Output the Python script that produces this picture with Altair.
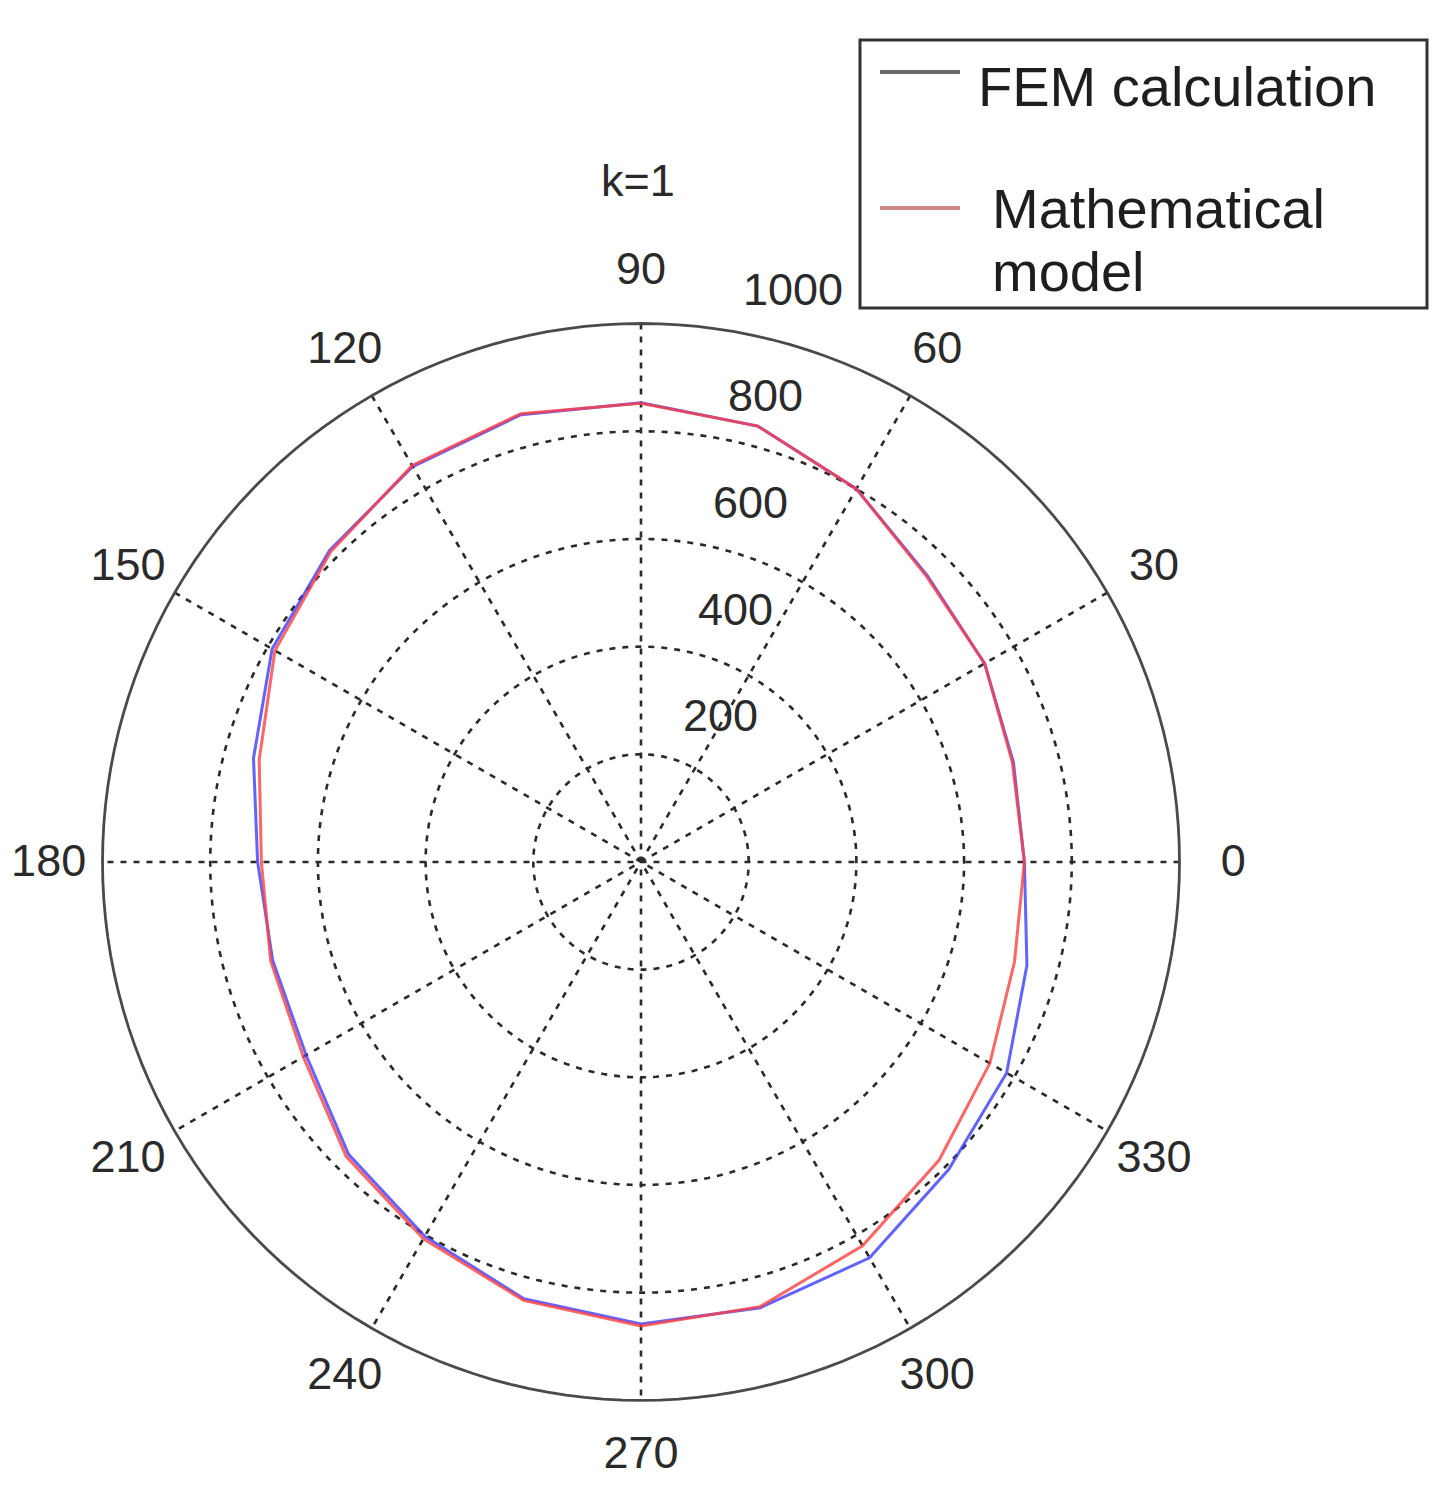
import numpy as np
import pandas as pd
import altair as alt

# values (angle in degrees, radius)
angles = [0, 15, 30, 45, 60, 75, 90, 105, 120, 135, 150, 165,
          180, 195, 210, 225, 240, 255, 270, 285, 300, 315, 330, 345]
fem = [712, 716, 737, 752, 800, 838, 853, 860, 848, 818, 791, 745,
       712, 708, 718, 768, 803, 840, 858, 857, 849, 808, 784, 742]
math_model = [712, 714, 737, 750, 800, 838, 852, 862, 850, 815, 785, 734,
              705, 712, 724, 774, 808, 843, 862, 855, 823, 783, 748, 718]

rings = [200, 400, 600, 800]
r_max = 1000
radial_labels = [200, 400, 600, 800, 1000]
spokes = [0, 30, 60, 90, 120, 150]
angle_labels = [0, 30, 60, 90, 120, 150, 180, 210, 240, 270, 300, 330]

W, H = 1427, 1485
xs = alt.Scale(domain=[-1175.5, 1474.5], nice=False, zero=False)
ys = alt.Scale(domain=[-1172, 1586], nice=False, zero=False)
grid_col = '#2a2a2a'
lbl_font = 'Liberation Sans'

# curves table, closed by repeating the first point
rows = []
for name, vals in [('FEM calculation', fem), ('Mathematical model', math_model)]:
    for a, r in zip(angles + [360], vals + [vals[0]]):
        rows.append({'angle': a, 'r': r, 'series': name})
curves = pd.DataFrame(rows)

# circles for the grid
deg = np.arange(0, 362, 2)
circ = pd.DataFrame([{'ring': rr, 'deg': d} for rr in rings + [r_max] for d in deg])

to_x = 'datum.{0} * cos(datum.{1} * PI / 180)'
to_y = 'datum.{0} * sin(datum.{1} * PI / 180)'

circles = alt.Chart(circ).transform_filter(
    alt.datum.ring < r_max
).transform_calculate(
    px=to_x.format('ring', 'deg'), py=to_y.format('ring', 'deg')
).mark_line(color=grid_col, strokeWidth=2.6, strokeDash=[6, 7]).encode(
    x=alt.X('px:Q', scale=xs, axis=None),
    y=alt.Y('py:Q', scale=ys, axis=None),
    detail='ring:N',
    order='deg:Q'
)

outer = alt.Chart(circ).transform_filter(
    alt.datum.ring == r_max
).transform_calculate(
    px=to_x.format('ring', 'deg'), py=to_y.format('ring', 'deg')
).mark_line(color='#4a4a4a', strokeWidth=2.8).encode(
    x=alt.X('px:Q', scale=xs, axis=None),
    y=alt.Y('py:Q', scale=ys, axis=None),
    order='deg:Q'
)

spoke_lines = alt.Chart(pd.DataFrame({'a': spokes})).transform_calculate(
    x1='1000 * cos(datum.a * PI / 180)', y1='1000 * sin(datum.a * PI / 180)'
).transform_calculate(
    x2='-datum.x1', y2='-datum.y1'
).mark_rule(color=grid_col, strokeWidth=2.6, strokeDash=[6, 7]).encode(
    x=alt.X('x1:Q', scale=xs, axis=None),
    y=alt.Y('y1:Q', scale=ys, axis=None),
    x2='x2:Q', y2='y2:Q'
)

ang_text = alt.Chart(pd.DataFrame({'a': angle_labels})).transform_calculate(
    px='1100 * cos(datum.a * PI / 180)', py='1100 * sin(datum.a * PI / 180)'
).mark_text(fontSize=45, font=lbl_font, color='#2a2a2a',
            align='center', baseline='middle').encode(
    x=alt.X('px:Q', scale=xs, axis=None),
    y=alt.Y('py:Q', scale=ys, axis=None),
    text='a:N'
)

rad_text = alt.Chart(pd.DataFrame({'r': radial_labels})).transform_calculate(
    px='datum.r * cos(82 * PI / 180)', py='datum.r * sin(82 * PI / 180)'
).mark_text(fontSize=45, font=lbl_font, color='#2a2a2a',
            align='left', baseline='middle', dx=27, dy=-38).encode(
    x=alt.X('px:Q', scale=xs, axis=None),
    y=alt.Y('py:Q', scale=ys, axis=None),
    text='r:N'
)

lines = alt.Chart(curves).transform_calculate(
    px=to_x.format('r', 'angle'), py=to_y.format('r', 'angle')
).mark_line(strokeWidth=3, opacity=0.8).encode(
    x=alt.X('px:Q', scale=xs, axis=None),
    y=alt.Y('py:Q', scale=ys, axis=None),
    color=alt.Color('series:N', legend=None,
                    scale=alt.Scale(domain=['FEM calculation', 'Mathematical model'],
                                    range=['#3c3cff', '#ff4040'])),
    order='angle:Q'
)

one = pd.DataFrame({'k': [0]})

title = alt.Chart(one).mark_text(fontSize=45, font=lbl_font, color='#2a2a2a',
                                 align='center', baseline='middle').encode(
    x=alt.value(630), y=alt.value(174), text=alt.value('k=1'))

# legend box drawn by hand
box = alt.Chart(one).mark_rect(fill='white', stroke='#333333', strokeWidth=3).encode(
    x=alt.value(852), x2=alt.value(1419), y=alt.value(32), y2=alt.value(300))
leg_fem = alt.Chart(one).mark_rule(color='#6a6a6a', strokeWidth=4).encode(
    x=alt.value(872), x2=alt.value(952), y=alt.value(64))
leg_math = alt.Chart(one).mark_rule(color='#d08888', strokeWidth=4).encode(
    x=alt.value(872), x2=alt.value(952), y=alt.value(200))
leg_t = alt.Chart(pd.DataFrame({
    'txt': ['FEM calculation', 'Mathematical', 'model'],
    'px': [970, 984, 984],
    'py': [98, 220, 283]
})).mark_text(fontSize=56, font=lbl_font, color='#1e1e1e',
              align='left', baseline='alphabetic').encode(
    x=alt.X('px:Q', scale=None), y=alt.Y('py:Q', scale=None), text='txt:N')

chart = alt.layer(
    circles, spoke_lines, outer, lines, ang_text, rad_text, title,
    box, leg_fem, leg_math, leg_t
).properties(
    width=W, height=H, padding=0, autosize=alt.AutoSizeParams(type='none')
).configure_view(stroke=None)

chart.save("out.html", embed_options={"renderer": "svg", "actions": False})
